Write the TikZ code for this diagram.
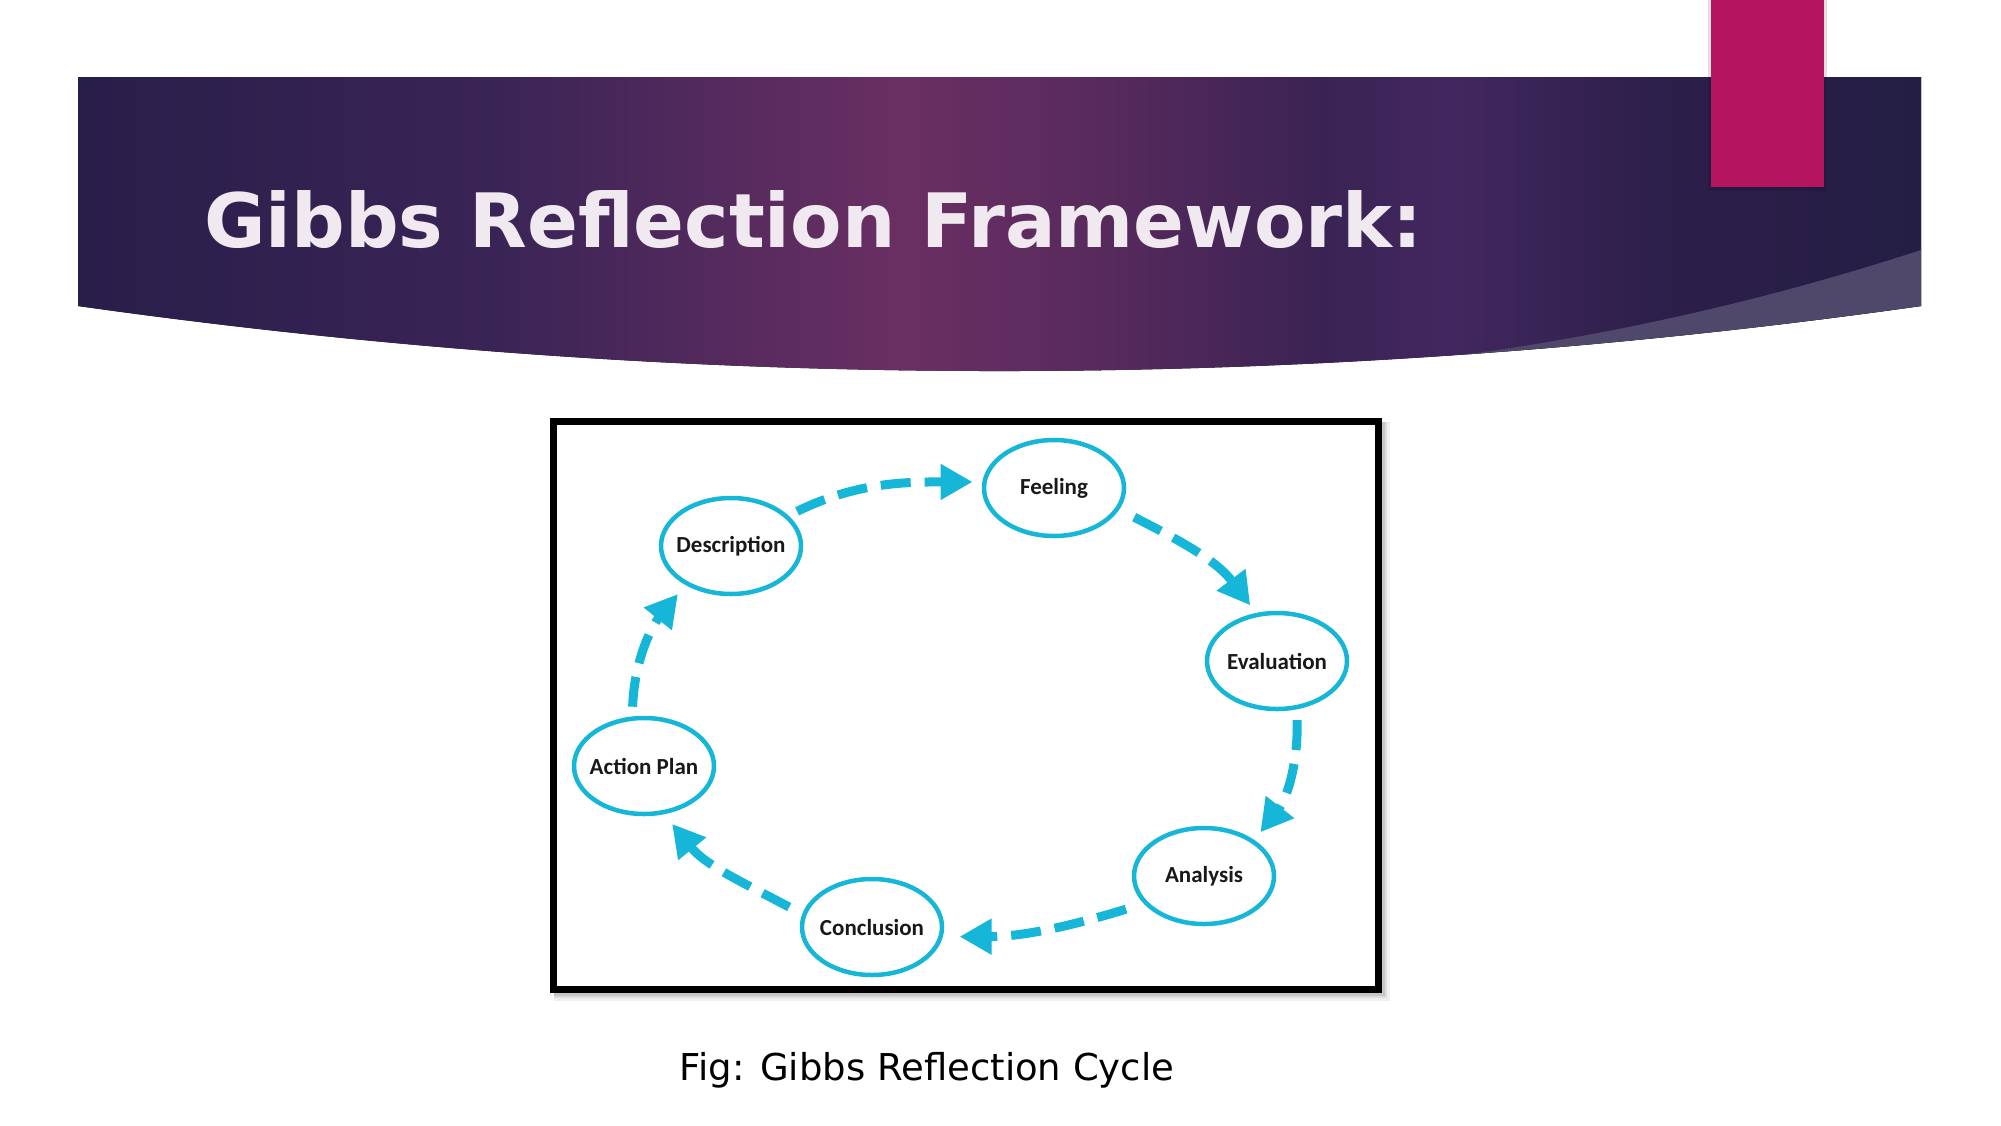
\documentclass[tikz,border=0pt]{standalone}
\usepackage{fontspec}
\setmainfont{DejaVu Sans}
\newfontfamily\lblfont{Carlito}
\usetikzlibrary{shapes.geometric,arrows.meta}
\definecolor{cy}{RGB}{22,182,216}
\definecolor{hA}{RGB}{40,30,74}
\definecolor{hB}{RGB}{58,36,86}
\definecolor{hC}{RGB}{106,47,99}
\definecolor{hD}{RGB}{88,42,92}
\definecolor{hE}{RGB}{58,35,84}
\definecolor{hF}{RGB}{66,39,95}
\definecolor{hG}{RGB}{44,31,74}
\definecolor{hH}{RGB}{36,30,68}
\definecolor{wedgec}{RGB}{80,72,107}
\definecolor{pinkc}{RGB}{180,20,96}
\definecolor{titlec}{RGB}{240,234,240}
\newcommand{\lbl}[1]{\makebox[0pt]{#1}}
\tikzset{
  stage/.style={ellipse, draw=cy, line width=4.5pt, minimum width=140pt, minimum height=96pt, inner sep=0pt, outer sep=0pt, fill=white,
    font=\lblfont\bfseries\fontsize{23}{26}\selectfont, text=black!90},
  cyc/.style={draw=cy, line width=9pt, dash pattern=on 30pt off 14pt, -{Triangle[length=32pt,width=34pt]}, shorten <=13pt, shorten >=13pt}
}
\begin{document}
\begin{tikzpicture}[x=1pt,y=-1pt]
\useasboundingbox (0,0) rectangle (2001,1125);
\fill[white] (0,0) rectangle (2001,1125);
% header band
\begin{scope}
\clip (78,77) -- (1921,77) -- (1921,306) .. controls (1307.7,392.7) and (692,392.7) .. (78,306) -- cycle;
\fill[left color=hA,right color=hB] (77,70) rectangle (501,400);
\fill[left color=hB,right color=hC] (500,70) rectangle (901,400);
\fill[left color=hC,right color=hD] (900,70) rectangle (1101,400);
\fill[left color=hD,right color=hE] (1100,70) rectangle (1321,400);
\fill[left color=hE,right color=hF] (1320,70) rectangle (1451,400);
\fill[left color=hF,right color=hG] (1450,70) rectangle (1661,400);
\fill[left color=hG,right color=hH] (1660,70) rectangle (1925,400);
\fill[wedgec] (1925,248) -- (1921,250) .. controls (1780,296) and (1620,335) .. (1440,358) -- (1440,420) -- (1925,420) -- cycle;
\end{scope}
% pink tab
\fill[black,opacity=0.12] (1708,0) rectangle (1827,191);
\fill[pinkc] (1711,0) rectangle (1824,187);
% title
\node[anchor=base west, inner sep=0pt, text=titlec, font=\bfseries\fontsize{75}{80}\selectfont] (title) at (204,247) {Gibbs Reflection Framework:};
% picture frame
\fill[black,opacity=0.06] (554,422) rectangle (1390,1001);
\fill[black,opacity=0.08] (554,422) rectangle (1387,998);
\fill[black,opacity=0.10] (554,422) rectangle (1385,996);
\draw[black, line width=7pt, fill=white] (553.5,421.5) rectangle (1378.5,989.5);
% stages
\node[stage] (feel) at (1054,488) {\lbl{Feeling}};
\node[stage] (desc) at (731,546) {\lbl{Description}};
\node[stage] (eval) at (1277,661) {\lbl{Evaluation}};
\node[stage] (ana)  at (1204,876) {\lbl{Analysis}};
\node[stage] (conc) at (872,927) {\lbl{Conclusion}};
\node[stage] (act)  at (644,766) {\lbl{Action Plan}};
% cycle arrows
\draw[cyc, shorten <=12pt, shorten >=12pt] (desc.28) to[out=26,in=180] (feel.175);
\draw[cyc, shorten <=19pt, shorten >=12pt] (feel.-18) to[out=-27,in=127] (eval.113);
\draw[cyc, shorten <=13pt, shorten >=12pt] (eval.-67) to[out=-88,in=52] (ana.35);
\draw[cyc, shorten <=21pt, shorten >=19pt] (ana.205) to[out=197,in=0] (conc.-8);
\draw[cyc, shorten <=17pt, shorten >=15pt] (conc.170) to[out=152,in=-51] (act.-68);
\draw[cyc, shorten <=12pt, shorten >=14pt] (act.104) to[out=88,in=231] (desc.220);
% caption
\node[anchor=base, inner sep=0pt, font=\fontsize{37}{44}\selectfont] (cap) at (927,1080) {Fig: Gibbs Reflection Cycle};
\end{tikzpicture}
\end{document}
